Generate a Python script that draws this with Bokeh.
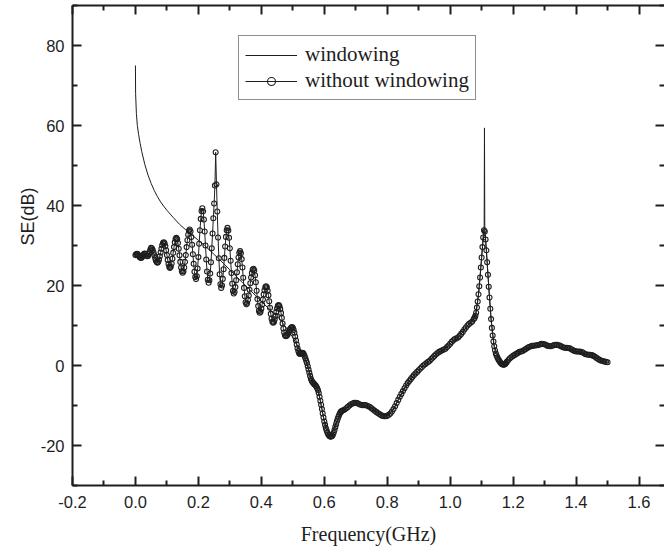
import numpy as np
from bokeh.plotting import figure
from bokeh.models import (Range1d, LinearAxis, FixedTicker, Legend, LegendItem,
                          Title, ColumnDataSource, NumeralTickFormatter)
from bokeh.embed import file_html
from bokeh.resources import INLINE

# ---------------- data ----------------
# "without windowing" series (circles), as (frequency GHz, SE dB) readings
freq_nowin = [
    0.0, 0.0025, 0.005, 0.0075, 0.01, 0.0125, 0.015, 0.0175, 0.02, 0.0225,
    0.025, 0.0275, 0.03, 0.0325, 0.035, 0.0375, 0.04, 0.0425, 0.045, 0.0475,
    0.05, 0.0525, 0.055, 0.0575, 0.06, 0.0625, 0.065, 0.0675, 0.07, 0.0725,
    0.075, 0.0775, 0.08, 0.0825, 0.085, 0.0875, 0.09, 0.0925, 0.095, 0.0975,
    0.1, 0.1025, 0.105, 0.1075, 0.11, 0.1125, 0.115, 0.1175, 0.12, 0.1225,
    0.125, 0.1275, 0.13, 0.1325, 0.135, 0.1375, 0.14, 0.1425, 0.145, 0.1475,
    0.15, 0.1525, 0.155, 0.1575, 0.16, 0.1625, 0.165, 0.1675, 0.17, 0.1725,
    0.175, 0.1775, 0.18, 0.1825, 0.185, 0.1875, 0.19, 0.1925, 0.195, 0.1975,
    0.2, 0.2025, 0.205, 0.2075, 0.21, 0.2125, 0.215, 0.2175, 0.22, 0.2225,
    0.225, 0.2275, 0.23, 0.2325, 0.235, 0.2375, 0.24, 0.2425, 0.245, 0.2475,
    0.25, 0.2525, 0.255, 0.2575, 0.26, 0.2625, 0.265, 0.2675, 0.27, 0.2725,
    0.275, 0.2775, 0.28, 0.2825, 0.285, 0.2875, 0.29, 0.2925, 0.295, 0.2975,
    0.3, 0.3025, 0.305, 0.3075, 0.31, 0.3125, 0.315, 0.3175, 0.32, 0.3225,
    0.325, 0.3275, 0.33, 0.3325, 0.335, 0.3375, 0.34, 0.3425, 0.345, 0.3475,
    0.35, 0.3525, 0.355, 0.3575, 0.36, 0.3625, 0.365, 0.3675, 0.37, 0.3725,
    0.375, 0.3775, 0.38, 0.3825, 0.385, 0.3875, 0.39, 0.3925, 0.395, 0.3975,
    0.4, 0.4025, 0.405, 0.4075, 0.41, 0.4125, 0.415, 0.4175, 0.42, 0.4225,
    0.425, 0.4275, 0.43, 0.4325, 0.435, 0.4375, 0.44, 0.4425, 0.445, 0.4475,
    0.45, 0.4525, 0.455, 0.4575, 0.46, 0.4625, 0.465, 0.4675, 0.47, 0.4725,
    0.475, 0.4775, 0.48, 0.4825, 0.485, 0.4875, 0.49, 0.4925, 0.495, 0.4975,
    0.5, 0.5025, 0.505, 0.5075, 0.51, 0.5125, 0.515, 0.5175, 0.52, 0.5225,
    0.525, 0.5275, 0.53, 0.5325, 0.535, 0.5375, 0.54, 0.5425, 0.545, 0.5475,
    0.55, 0.5525, 0.555, 0.5575, 0.56, 0.5625, 0.565, 0.5675, 0.57, 0.5725,
    0.575, 0.5775, 0.58, 0.5825, 0.585, 0.5875, 0.59, 0.5925, 0.595, 0.5975,
    0.6, 0.6025, 0.605, 0.6075, 0.61, 0.6125, 0.615, 0.6175, 0.62, 0.6225,
    0.625, 0.6275, 0.63, 0.6325, 0.635, 0.6375, 0.64, 0.6425, 0.645, 0.6475,
    0.65, 0.6525, 0.655, 0.6575, 0.66, 0.665, 0.67, 0.675, 0.68, 0.685,
    0.69, 0.695, 0.7, 0.705, 0.71, 0.715, 0.72, 0.725, 0.73, 0.735,
    0.74, 0.745, 0.75, 0.755, 0.76, 0.765, 0.77, 0.775, 0.78, 0.785,
    0.79, 0.795, 0.8, 0.805, 0.81, 0.815, 0.82, 0.825, 0.83, 0.835,
    0.84, 0.845, 0.85, 0.855, 0.86, 0.865, 0.87, 0.875, 0.88, 0.885,
    0.89, 0.895, 0.9, 0.905, 0.91, 0.915, 0.92, 0.925, 0.93, 0.935,
    0.94, 0.945, 0.95, 0.955, 0.96, 0.965, 0.97, 0.975, 0.98, 0.985,
    0.99, 0.995, 1.0, 1.005, 1.01, 1.015, 1.02, 1.025, 1.03, 1.035,
    1.04, 1.045, 1.05, 1.055, 1.06, 1.065, 1.07, 1.075, 1.0775, 1.08,
    1.0825, 1.085, 1.0875, 1.09, 1.0925, 1.095, 1.0975, 1.1, 1.1025, 1.105,
    1.1075, 1.11, 1.1125, 1.115, 1.1175, 1.12, 1.1225, 1.125, 1.1275, 1.13,
    1.1325, 1.135, 1.1375, 1.14, 1.1425, 1.145, 1.1475, 1.15, 1.1525, 1.155,
    1.1575, 1.16, 1.1625, 1.165, 1.1675, 1.17, 1.1725, 1.175, 1.1775, 1.18,
    1.185, 1.19, 1.195, 1.2, 1.205, 1.21, 1.215, 1.22, 1.225, 1.23,
    1.235, 1.24, 1.245, 1.25, 1.255, 1.26, 1.265, 1.27, 1.275, 1.28,
    1.285, 1.29, 1.295, 1.3, 1.305, 1.31, 1.315, 1.32, 1.325, 1.33,
    1.335, 1.34, 1.345, 1.35, 1.355, 1.36, 1.365, 1.37, 1.375, 1.38,
    1.385, 1.39, 1.395, 1.4, 1.405, 1.41, 1.415, 1.42, 1.425, 1.43,
    1.435, 1.44, 1.445, 1.45, 1.455, 1.46, 1.465, 1.47, 1.475, 1.48,
    1.485, 1.49, 1.495, 1.5,
]
se_nowin = [
    27.6, 27.8, 27.9, 27.8, 27.5, 27.2, 27.0, 26.9, 27.0, 27.3,
    27.6, 27.9, 28.0, 27.8, 27.5, 27.3, 27.4, 27.8, 28.4, 29.0,
    29.4, 29.25, 28.85, 28.25, 27.55, 26.85, 26.25, 25.85, 25.7, 25.9,
    26.5, 27.3, 28.25, 29.2, 30.05, 30.6, 30.8, 30.55, 29.85, 28.8,
    27.6, 26.4, 25.35, 24.65, 24.4, 24.7, 25.5, 26.7, 28.15, 29.6,
    30.8, 31.6, 31.9, 31.55, 30.6, 29.2, 27.55, 25.9, 24.5, 23.55,
    23.2, 23.5, 24.5, 25.9, 27.6, 29.6, 31.3, 32.7, 33.7, 34.0,
    33.5, 32.1, 30.2, 27.8, 25.45, 23.45, 22.1, 21.6, 22.3, 24.25,
    27.1, 30.45, 33.8, 36.65, 38.6, 39.3, 38.55, 36.5, 33.5, 30.0,
    26.5, 23.5, 21.45, 20.7, 21.3, 23.0, 25.8, 29.3, 33.0, 36.8,
    40.5, 45.0, 53.3, 45.3, 38.5, 32.0, 26.8, 22.8, 20.3, 19.4,
    20.0, 21.65, 24.05, 26.9, 29.75, 32.15, 33.8, 34.4, 33.75, 31.95,
    29.3, 26.2, 23.1, 20.45, 18.65, 18.0, 18.4, 19.6, 21.3, 23.3,
    25.3, 27.0, 28.2, 28.6, 28.05, 26.6, 24.5, 21.95, 19.4, 17.3,
    15.8, 15.3, 15.55, 16.4, 17.5, 18.95, 20.55, 22.0, 23.1, 23.95,
    24.2, 23.75, 22.55, 20.8, 18.7, 16.6, 14.85, 13.65, 13.2, 13.45,
    14.2, 15.25, 16.5, 17.75, 18.8, 19.55, 19.8, 19.55, 18.7, 17.55,
    16.05, 14.45, 12.9, 11.7, 10.95, 10.7, 10.9, 11.55, 12.4, 13.4,
    14.25, 14.9, 15.1, 14.85, 14.15, 13.15, 11.9, 10.5, 9.25, 8.25,
    7.55, 7.3, 7.4, 7.65, 8.0, 8.45, 8.9, 9.25, 9.5, 9.6,
    9.45, 8.9, 8.2, 7.25, 6.25, 5.25, 4.3, 3.6, 3.05, 2.9,
    3.0, 3.15, 3.2, 3.1, 2.8, 2.35, 1.8, 1.2, 0.6, -0.2,
    -1.0, -1.8, -2.6, -3.3, -3.8, -4.15, -4.4, -4.6, -4.8, -5.0,
    -5.3, -5.7, -6.2, -6.9, -7.8, -8.8, -9.8, -10.9, -12.0, -13.0,
    -14.0, -14.85, -15.6, -16.25, -16.8, -17.2, -17.5, -17.7, -17.8, -17.75,
    -17.6, -17.25, -16.8, -16.15, -15.4, -14.7, -14.0, -13.35, -12.8, -12.3,
    -11.9, -11.6, -11.4, -11.3, -11.2, -11.0, -10.7, -10.35, -10.0, -9.7,
    -9.5, -9.35, -9.3, -9.4, -9.6, -9.8, -9.9, -9.9, -9.9, -10.0,
    -10.2, -10.4, -10.7, -11.0, -11.3, -11.6, -11.9, -12.15, -12.4, -12.6,
    -12.7, -12.7, -12.6, -12.35, -12.0, -11.5, -10.9, -10.2, -9.4, -8.6,
    -7.8, -7.1, -6.4, -5.7, -5.0, -4.4, -3.9, -3.4, -2.9, -2.4,
    -2.0, -1.6, -1.2, -0.8, -0.4, 0.0, 0.3, 0.6, 0.9, 1.2,
    1.6, 2.0, 2.4, 2.8, 3.1, 3.4, 3.6, 3.8, 4.0, 4.2,
    4.6, 5.0, 5.4, 5.9, 6.3, 6.6, 6.8, 7.0, 7.4, 7.9,
    8.4, 9.0, 9.5, 10.0, 10.4, 10.7, 11.0, 11.6, 11.9, 12.4,
    13.2, 14.5, 16.0, 17.8, 19.8, 22.0, 24.5, 27.0, 29.6, 32.0,
    33.8, 33.5, 31.5, 28.8, 25.8, 22.7, 19.7, 17.0, 14.2, 11.6,
    9.4, 7.5, 6.0, 4.8, 3.8, 3.0, 2.5, 2.0, 1.6, 1.3,
    1.0, 0.7, 0.5, 0.3, 0.25, 0.2, 0.25, 0.4, 0.6, 0.9,
    1.35, 1.8, 2.1, 2.4, 2.65, 2.9, 3.15, 3.4, 3.5, 3.6,
    3.85, 4.1, 4.35, 4.6, 4.75, 4.9, 4.95, 5.0, 5.05, 5.1,
    5.25, 5.4, 5.35, 5.3, 5.1, 4.9, 4.85, 4.8, 4.95, 5.1,
    5.15, 5.2, 5.05, 4.9, 4.7, 4.5, 4.45, 4.4, 4.35, 4.3,
    4.05, 3.8, 3.65, 3.5, 3.5, 3.5, 3.4, 3.3, 3.05, 2.8,
    2.75, 2.7, 2.65, 2.6, 2.4, 2.2, 1.9, 1.6, 1.4, 1.2,
    1.1, 1.0, 0.9, 0.8,
]

# "windowing" series (solid line)
freq_win = [
    0.000, 0.0005, 0.003, 0.006, 0.010, 0.015, 0.020, 0.030, 0.040, 0.050,
    0.060, 0.070, 0.080, 0.090, 0.100, 0.120, 0.140, 0.160, 0.180, 0.200,
    0.220, 0.240, 0.260, 0.280, 0.300, 0.320, 0.340, 0.360, 0.380, 0.400,
    0.420, 0.440, 0.460, 0.480, 0.500, 0.520, 0.540, 0.560, 0.580, 0.600,
    0.620, 0.640, 0.660, 0.680, 0.700, 0.720, 0.740, 0.760, 0.780, 0.800,
    0.820, 0.840, 0.860, 0.880, 0.900, 0.920, 0.940, 0.960, 0.980, 1.000,
    1.020, 1.040, 1.060, 1.080, 1.090, 1.100, 1.105, 1.108, 1.109, 1.110,
    1.115, 1.120, 1.130, 1.140, 1.160, 1.180, 1.200, 1.240, 1.280, 1.320,
    1.360, 1.400, 1.440, 1.480, 1.500,
]
se_win = [
    75.0, 68.0, 63.0, 60.0, 57.8, 55.5, 53.5, 50.2, 47.6, 45.5,
    43.7, 42.2, 40.9, 39.8, 38.8, 37.0, 35.3, 33.9, 32.6, 31.3,
    30.0, 28.5, 27.0, 25.5, 23.9, 22.3, 20.7, 19.2, 17.6, 16.0,
    14.5, 13.0, 11.5, 9.3, 7.0, 4.2, 1.8, -3.6, -6.0, -13.8,
    -17.6, -14.0, -11.2, -10.0, -9.3, -9.9, -10.2, -11.3, -12.4, -12.6,
    -10.9, -7.8, -5.0, -2.9, -1.2, 0.3, 1.6, 3.1, 4.0, 5.4,
    6.8, 8.4, 10.4, 12.4, 17.8, 27.0, 32.0, 35.0, 59.4, 34.0,
    28.8, 22.7, 11.6, 4.8, 0.7, 0.9, 2.4, 4.1, 5.1, 4.8,
    4.5, 3.5, 2.7, 1.2, 0.8,
]

x_major = [-0.2, 0.0, 0.2, 0.4, 0.6, 0.8, 1.0, 1.2, 1.4, 1.6]
x_minor = [-0.1, 0.1, 0.3, 0.5, 0.7, 0.9, 1.1, 1.3, 1.5]
y_major = [-20, 0, 20, 40, 60, 80]
y_minor = [-30, -10, 10, 30, 50, 70, 90]

series_names = ["windowing", "without windowing"]

# ---------------- figure ----------------
INK = "#1e1e1e"
p = figure(width=664, height=556, output_backend="svg", toolbar_location=None,
           x_range=Range1d(-0.2, 1.681), y_range=Range1d(-30, 90),
           min_border_left=72, min_border_right=0, min_border_top=5,
           min_border_bottom=71, x_axis_location=None, y_axis_location=None)
p.outline_line_color = None
p.grid.visible = False
p.background_fill_color = "white"
p.border_fill_color = "white"


def make_axis(ticks, minor, show_labels, fmt=None, line=True):
    ax = LinearAxis(ticker=FixedTicker(ticks=ticks, minor_ticks=minor))
    ax.axis_line_width = 2
    ax.axis_line_color = INK if line else None
    ax.major_tick_in = 9
    ax.major_tick_out = 0
    ax.minor_tick_in = 5
    ax.minor_tick_out = 0
    ax.major_tick_line_width = 2
    ax.minor_tick_line_width = 2
    ax.major_tick_line_color = INK
    ax.minor_tick_line_color = INK
    if fmt is not None:
        ax.formatter = fmt
    if show_labels:
        ax.major_label_text_font = "Liberation Sans"
        ax.major_label_text_font_size = "16.5px"
        ax.major_label_text_color = INK
    else:
        ax.major_label_text_font_size = "0px"
        ax.major_label_text_color = None
        ax.major_label_standoff = 0
    return ax


xb = make_axis(x_major, x_minor, True, NumeralTickFormatter(format="0.0"))
xb.major_label_standoff = 10
xb.axis_label = "Frequency(GHz)"
xb.axis_label_text_font = "Liberation Serif"
xb.axis_label_text_font_style = "normal"
xb.axis_label_text_font_size = "20px"
xb.axis_label_text_color = INK
xb.axis_label_standoff = 12
p.add_layout(xb, "below")

xt = make_axis(x_major, x_minor, False)
p.add_layout(xt, "above")

yl = make_axis(y_major, y_minor, True, NumeralTickFormatter(format="0"))
yl.major_label_standoff = 8
p.add_layout(yl, "left")

yr = make_axis(y_major, y_minor, False, line=False)
p.add_layout(yr, "right")

# y-axis title, left of the axis, raised above the frame centre as in the reference
p.add_layout(Title(text="SE(dB)", align="left", offset=240,
                   text_font="Liberation Sans", text_font_size="18px",
                   text_font_style="normal", text_color=INK, standoff=0), "left")

src_nw = ColumnDataSource(dict(f=freq_nowin, se=se_nowin))
src_w = ColumnDataSource(dict(f=freq_win, se=se_win))

r_nw_line = p.line("f", "se", source=src_nw, line_color=INK, line_width=1.0)
r_nw_pts = p.scatter("f", "se", source=src_nw, marker="circle", size=5,
                     line_color=INK, line_width=1.1, fill_color=None)
r_w = p.line("f", "se", source=src_w, line_color=INK, line_width=1)

legend = Legend(items=[LegendItem(label=series_names[0], renderers=[r_w]),
                       LegendItem(label=series_names[1], renderers=[r_nw_line, r_nw_pts])],
                location=(166, 385), orientation="vertical", margin=0,
                padding=6, spacing=1, glyph_width=52, glyph_height=20,
                label_height=20, label_standoff=8,
                label_text_font="Liberation Serif", label_text_font_size="21px",
                label_text_color=INK,
                border_line_color=INK, border_line_width=1.5,
                background_fill_color="white", background_fill_alpha=1.0)
p.add_layout(legend)

open("out.html", "w").write(file_html(p, INLINE))
